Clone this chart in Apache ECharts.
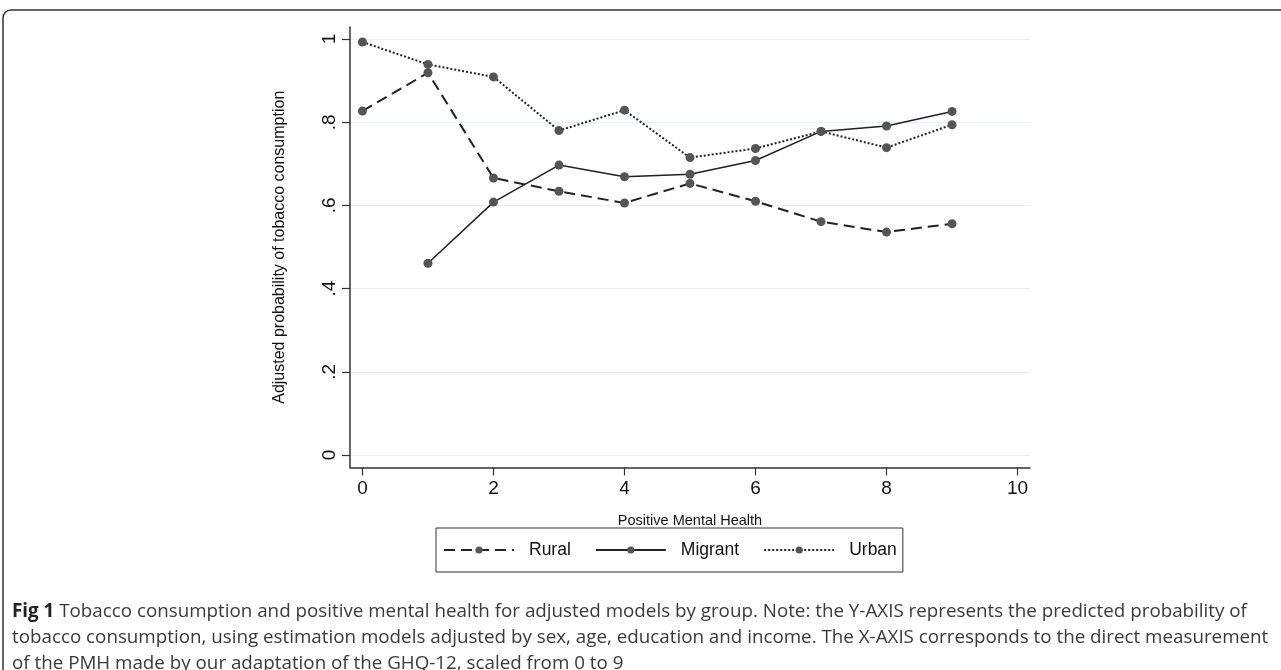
<!DOCTYPE html>
<html>
<head>
<meta charset="utf-8">
<script src="https://cdn.jsdelivr.net/npm/echarts@6/dist/echarts.min.js"></script>
<style>
html,body{margin:0;padding:0;background:#fff;}
#chart{width:1281px;height:670px;}
</style>
</head>
<body>
<div id="chart"></div>
<script>
// ---- data ----
const pmh = [0, 1, 2, 3, 4, 5, 6, 7, 8, 9];
const rural = [0.827, 0.919, 0.666, 0.634, 0.606, 0.653, 0.610, 0.561, 0.536, 0.556];
const migrant = [null, 0.461, 0.608, 0.697, 0.669, 0.675, 0.708, 0.778, 0.791, 0.826];
const urban = [0.993, 0.939, 0.909, 0.780, 0.829, 0.715, 0.737, 0.778, 0.739, 0.794];
const xTicks = [0, 2, 4, 6, 8, 10];
const yTicks = [0, 0.2, 0.4, 0.6, 0.8, 1];
const seriesNames = ['Rural', 'Migrant', 'Urban'];
const xTitle = 'Positive Mental Health';
const yTitle = 'Adjusted probability of tobacco consumption';
const captionBold = 'Fig 1';
const captionLines = [
  ' Tobacco consumption and positive mental health for adjusted models by group. Note: the Y-AXIS represents the predicted probability of',
  'tobacco consumption, using estimation models adjusted by sex, age, education and income. The X-AXIS corresponds to the direct measurement',
  'of the PMH made by our adaptation of the GHQ-12, scaled from 0 to 9'
];

function pairs(arr) {
  return pmh.map((x, i) => [x, arr[i]]).filter(p => p[1] !== null);
}

const chart = echarts.init(document.getElementById('chart'), null, {renderer: 'canvas'});
const FONT = '"Liberation Sans", Arial, sans-serif';
const markerColor = '#555555';

function mkSeries(name, data, lineType, width) {
  return {
    name: name,
    type: 'line',
    data: pairs(data),
    symbol: 'circle',
    symbolSize: 9,
    showSymbol: true,
    itemStyle: {color: markerColor},
    lineStyle: {color: '#222222', width: width, type: lineType},
    emphasis: {disabled: true},
    z: 3
  };
}

const option = {
  animation: false,
  backgroundColor: '#ffffff',
  grid: {left: 350, right: 251, top: 27, bottom: 202.5, containLabel: false},
  xAxis: {
    type: 'value',
    min: -0.19,
    max: 10.19,
    name: xTitle,
    nameLocation: 'middle',
    nameGap: 46,
    nameTextStyle: {fontFamily: FONT, fontSize: 14.5, color: '#111'},
    axisLine: {show: true, onZero: false, lineStyle: {color: '#333', width: 1.5}},
    axisTick: {show: true, length: 8, lineStyle: {color: '#333', width: 1.2}, customValues: xTicks},
    axisLabel: {fontFamily: FONT, fontSize: 19, color: '#111', margin: 12, customValues: xTicks},
    splitLine: {show: false}
  },
  yAxis: {
    type: 'value',
    min: -0.03,
    max: 1.029,
    name: yTitle,
    nameLocation: 'middle',
    nameGap: 62,
    nameRotate: 90,
    nameTextStyle: {fontFamily: FONT, fontSize: 16, color: '#111'},
    axisLine: {show: true, onZero: false, lineStyle: {color: '#333', width: 1.5}},
    axisTick: {show: true, length: 8, lineStyle: {color: '#333', width: 1.2}, customValues: yTicks},
    axisLabel: {
      fontFamily: FONT, fontSize: 19, color: '#111', margin: 11, rotate: 90,
      customValues: yTicks,
      formatter: function (v) {
        if (Math.abs(v) < 1e-9) return '0';
        if (Math.abs(v - 1) < 1e-9) return '1';
        return String(Math.round(v * 10) / 10).replace(/^0/, '');
      }
    },
    splitLine: {show: true, lineStyle: {color: '#e6eff1', width: 1.2}}
  },
  legend: {
    show: true,
    left: 436,
    top: 528,
    width: 472,
    height: 46,
    orient: 'horizontal',
    data: seriesNames,
    itemWidth: 70,
    itemHeight: 9,
    itemGap: 24,
    padding: [13, 6, 13, 7],
    borderColor: '#333',
    borderWidth: 1,
    backgroundColor: '#fff',
    textStyle: {fontFamily: FONT, fontSize: 17.5, color: '#111', padding: [0, 0, 0, 10]},
    selectedMode: false
  },
  series: [
    mkSeries(seriesNames[0], rural, [11, 6], 2),
    mkSeries(seriesNames[1], migrant, 'solid', 1.5),
    mkSeries(seriesNames[2], urban, [2, 2], 2)
  ],
  graphic: [
    {
      type: 'rect',
      shape: {x: 3, y: 10, width: 1300, height: 680, r: 8},
      style: {fill: 'none', stroke: '#333', lineWidth: 1.5},
      silent: true,
      z: -1
    },
    {
      type: 'text',
      left: 12,
      top: 599,
      style: {
        text: '{b|' + captionBold + '}' + captionLines[0] + '\n' + captionLines[1] + '\n' + captionLines[2],
        font: '18.8px "Open Sans", sans-serif',
        fill: '#3a3a3a',
        lineHeight: 26,
        rich: {
          b: {fontFamily: '"Open Sans", sans-serif', fontWeight: 'bold', fontSize: 18.8, fill: '#222', lineHeight: 26}
        }
      },
      silent: true
    }
  ]
};

chart.setOption(option);
</script>
</body>
</html>
